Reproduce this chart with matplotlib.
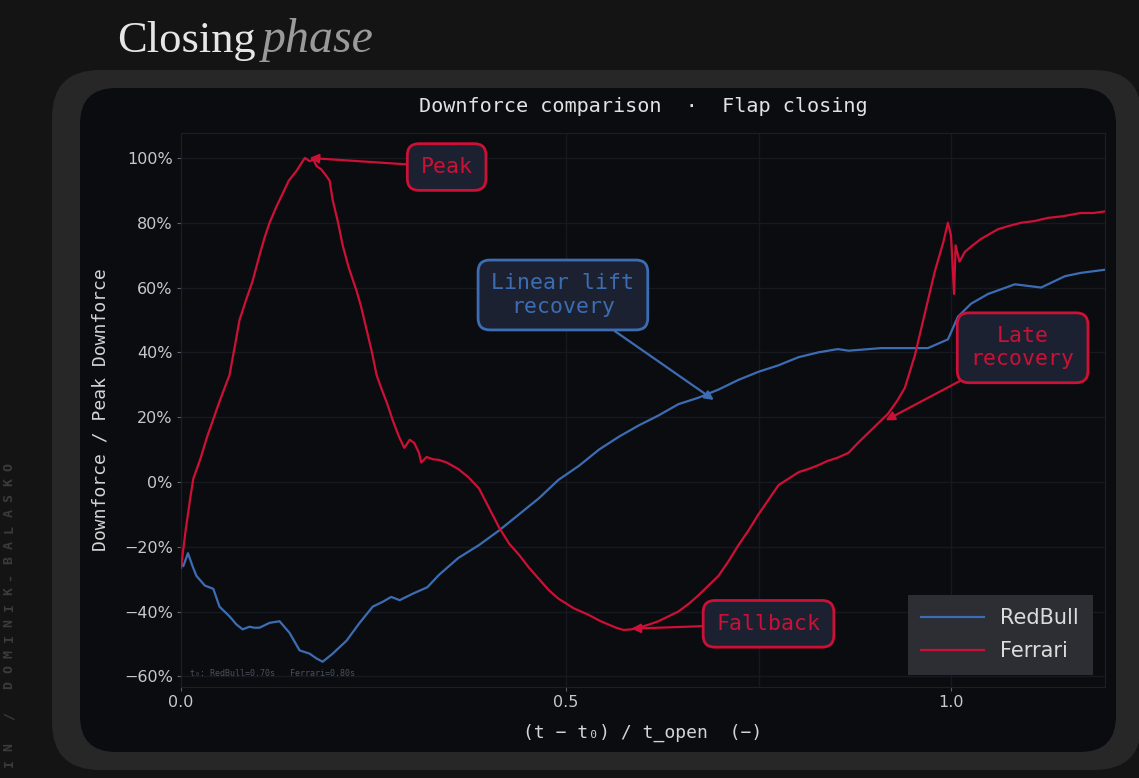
import matplotlib
matplotlib.use("Agg")
import matplotlib.pyplot as plt
from matplotlib.patches import FancyBboxPatch
from matplotlib.transforms import IdentityTransform
from matplotlib.ticker import FuncFormatter

# data (t normalised by t_open, downforce / peak)
ferrari_t = [0.000, 0.006, 0.012, 0.016, 0.025, 0.034, 0.040, 0.048, 0.055, 0.063,
             0.070, 0.076, 0.085, 0.093, 0.102, 0.108, 0.115, 0.124, 0.132, 0.140,
             0.150, 0.158, 0.161, 0.167, 0.172, 0.176, 0.182, 0.187, 0.193, 0.197,
             0.204, 0.210, 0.218, 0.228, 0.234, 0.241, 0.248, 0.254, 0.260, 0.268,
             0.275, 0.283, 0.290, 0.297, 0.303, 0.309, 0.312, 0.319, 0.327, 0.335,
             0.345, 0.360, 0.373, 0.387, 0.400, 0.413, 0.426, 0.439, 0.452, 0.465,
             0.478, 0.490, 0.510, 0.529, 0.545, 0.555, 0.565, 0.575, 0.585, 0.595,
             0.608, 0.620, 0.633, 0.646, 0.660, 0.672, 0.685, 0.698, 0.711, 0.724,
             0.737, 0.750, 0.763, 0.776, 0.789, 0.802, 0.815, 0.828, 0.840, 0.853,
             0.867, 0.879, 0.892, 0.905, 0.918, 0.930, 0.940, 0.953, 0.966, 0.979,
             0.990, 0.996, 1.000, 1.004, 1.006, 1.011, 1.018, 1.028, 1.039, 1.050,
             1.061, 1.075, 1.091, 1.108, 1.126, 1.145, 1.168, 1.185, 1.200]
ferrari_y = [-0.265, -0.15, -0.05, 0.01, 0.07, 0.14, 0.18, 0.235, 0.28, 0.33,
             0.42, 0.50, 0.565, 0.62, 0.70, 0.75, 0.80, 0.85, 0.89, 0.93,
             0.96, 0.99, 1.00, 0.99, 0.995, 0.975, 0.965, 0.95, 0.93, 0.87,
             0.80, 0.73, 0.66, 0.59, 0.54, 0.47, 0.40, 0.33, 0.29, 0.24,
             0.19, 0.14, 0.105, 0.13, 0.12, 0.09, 0.06, 0.077, 0.07, 0.068,
             0.06, 0.04, 0.015, -0.02, -0.08, -0.14, -0.19, -0.225, -0.265, -0.30,
             -0.335, -0.36, -0.39, -0.41, -0.43, -0.44, -0.45, -0.457, -0.455, -0.45,
             -0.44, -0.43, -0.415, -0.40, -0.375, -0.35, -0.32, -0.29, -0.245, -0.195,
             -0.15, -0.10, -0.055, -0.01, 0.01, 0.03, 0.04, 0.052, 0.065, 0.075,
             0.09, 0.12, 0.15, 0.18, 0.21, 0.25, 0.29, 0.39, 0.52, 0.65,
             0.74, 0.80, 0.76, 0.58, 0.73, 0.68, 0.71, 0.73, 0.75, 0.765,
             0.78, 0.79, 0.80, 0.805, 0.815, 0.82, 0.83, 0.83, 0.835]

redbull_t = [0.000, 0.003, 0.009, 0.015, 0.020, 0.031, 0.042, 0.050, 0.063, 0.072,
             0.080, 0.089, 0.095, 0.102, 0.115, 0.128, 0.141, 0.154, 0.167, 0.176,
             0.184, 0.197, 0.215, 0.232, 0.249, 0.262, 0.273, 0.284, 0.301, 0.320,
             0.335, 0.360, 0.387, 0.413, 0.439, 0.465, 0.490, 0.517, 0.543, 0.569,
             0.595, 0.620, 0.646, 0.672, 0.698, 0.724, 0.750, 0.776, 0.802, 0.828,
             0.853, 0.867, 0.909, 0.970, 0.996, 1.009, 1.026, 1.048, 1.083, 1.117,
             1.148, 1.168, 1.200]
redbull_y = [-0.25, -0.26, -0.22, -0.26, -0.29, -0.32, -0.33, -0.385, -0.415, -0.44,
             -0.455, -0.447, -0.45, -0.45, -0.435, -0.43, -0.466, -0.52, -0.53, -0.545,
             -0.555, -0.53, -0.49, -0.435, -0.385, -0.37, -0.355, -0.365, -0.345, -0.325,
             -0.287, -0.235, -0.195, -0.15, -0.10, -0.05, 0.006, 0.05, 0.10, 0.14,
             0.175, 0.205, 0.24, 0.26, 0.285, 0.315, 0.34, 0.36, 0.385, 0.40,
             0.41, 0.405, 0.413, 0.413, 0.44, 0.51, 0.55, 0.58, 0.61, 0.60,
             0.635, 0.645, 0.655]

series_names = ["RedBull", "Ferrari"]
x_ticks = [0.0, 0.5, 1.0]
y_ticks = [-0.6, -0.4, -0.2, 0.0, 0.2, 0.4, 0.6, 0.8, 1.0]

# annotations: text, arrow target, text position
notes = [
    ("Peak", (0.167, 1.0), (0.345, 0.972), "red"),
    ("Linear lift\nrecovery", (0.692, 0.253), (0.496, 0.577), "blue"),
    ("Late\nrecovery", (0.915, 0.19), (1.093, 0.414), "red"),
    ("Fallback", (0.585, -0.453), (0.763, -0.438), "red"),
]
t0_note = "t\u2080: RedBull=0.70s   Ferrari=0.80s"
side_text = "IN / DOMINIK-BALASKO"

RED = "#cc1036"
BLUE = "#3c6db3"
PAGE = "#141414"
FRAME = "#272727"
PANEL = "#0b0c10"
GRID = "#161920"
MONO = "DejaVu Sans Mono"

fig = plt.figure(figsize=(11.39, 7.78), dpi=100, facecolor=PAGE)

# slide frame + dark card (pixel coords, origin bottom-left)
idt = IdentityTransform()
fig.patches.append(FancyBboxPatch((52, 8), 1090, 700, boxstyle="round,pad=0,rounding_size=48",
                                  transform=idt, facecolor=FRAME, edgecolor="none", zorder=-2))
fig.patches.append(FancyBboxPatch((80, 26), 1036, 664, boxstyle="round,pad=0,rounding_size=36",
                                  transform=idt, facecolor=PANEL, edgecolor="none", zorder=-1))

fig.text(117 / 1139, 1 - 52 / 778, "Closing", family="Liberation Serif", fontsize=32,
         color="#e6e6e6", va="baseline", ha="left")
fig.text(262 / 1139, 1 - 52 / 778, "phase", family="Liberation Serif", style="italic",
         fontsize=34.5, color="#9a9a9a", va="baseline", ha="left")

# vertical side credit, letter-spaced
for i, ch in enumerate(side_text):
    fig.text(9 / 1139, (778 - 763 + i * 15.6) / 778, ch, family=MONO, fontsize=9.5,
             fontweight="bold", color="#3c3c3c", rotation=90, ha="center", va="center")

ax = fig.add_axes([181 / 1139, 1 - 687 / 778, 924 / 1139, 554 / 778])
ax.set_facecolor(PANEL)

ax.plot(redbull_t, redbull_y, color=BLUE, lw=1.6, label=series_names[0], zorder=3)
ax.plot(ferrari_t, ferrari_y, color=RED, lw=1.6, label=series_names[1], zorder=3)

ax.set_xlim(0, 1.2)
ax.set_ylim(-0.633, 1.077)
ax.set_xticks(x_ticks)
ax.set_yticks(y_ticks)
ax.xaxis.set_major_formatter(FuncFormatter(lambda v, p: f"{v:.1f}"))
ax.yaxis.set_major_formatter(FuncFormatter(lambda v, p: f"{v * 100:.0f}%".replace("-", "\u2212")))
ax.tick_params(colors="#c8c8c8", labelsize=11.5, length=3, width=0.8, pad=3)
ax.tick_params(axis="both", which="both", color="#5a5e68")
ax.grid(True, color=GRID, lw=1.0)
ax.axvline(0.75, color=GRID, lw=1.0, zorder=0)
for s in ax.spines.values():
    s.set_color("#1c1f27")

ax.set_ylabel("Downforce / Peak Downforce", family=MONO, fontsize=13, color="#d4d4d4")
ax.yaxis.set_label_coords(-0.077, 0.5)
ax.set_xlabel("(t \u2212 t\u2080) / t_open  (\u2212)", family=MONO, fontsize=13, color="#d4d4d4")
ax.xaxis.set_label_coords(0.5, -0.066)

fig.text(643 / 1139, 1 - 106 / 778, "Downforce comparison  \u00b7  Flap closing", family=MONO,
         fontsize=14.5, color="#e2e2e2", ha="center", va="center")

ax.text(0.01, 0.025, t0_note, transform=ax.transAxes, family=MONO, fontsize=6,
        color="#4c505a", ha="left", va="center")

for txt, xy, xytext, c in notes:
    col = RED if c == "red" else BLUE
    ax.annotate(txt, xy=xy, xytext=xytext, ha="center", va="center", family=MONO,
                fontsize=15.5, color=col, zorder=5,
                bbox=dict(boxstyle="round,pad=0.62,rounding_size=0.55", fc="#1c2131",
                          ec=col, lw=2),
                arrowprops=dict(arrowstyle="-|>", color=col, lw=1.6, mutation_scale=13,
                                shrinkA=0, shrinkB=0))

leg = ax.legend(loc="lower right", fontsize=15, facecolor="#2c2e34", edgecolor="none",
                framealpha=1, labelcolor="#dcdcdc", handlelength=3.0, handletextpad=0.8,
                borderpad=0.65, labelspacing=0.6, borderaxespad=0.6, fancybox=False)
leg.get_frame().set_linewidth(0)

fig.savefig("out.png", dpi=100, facecolor=PAGE)
